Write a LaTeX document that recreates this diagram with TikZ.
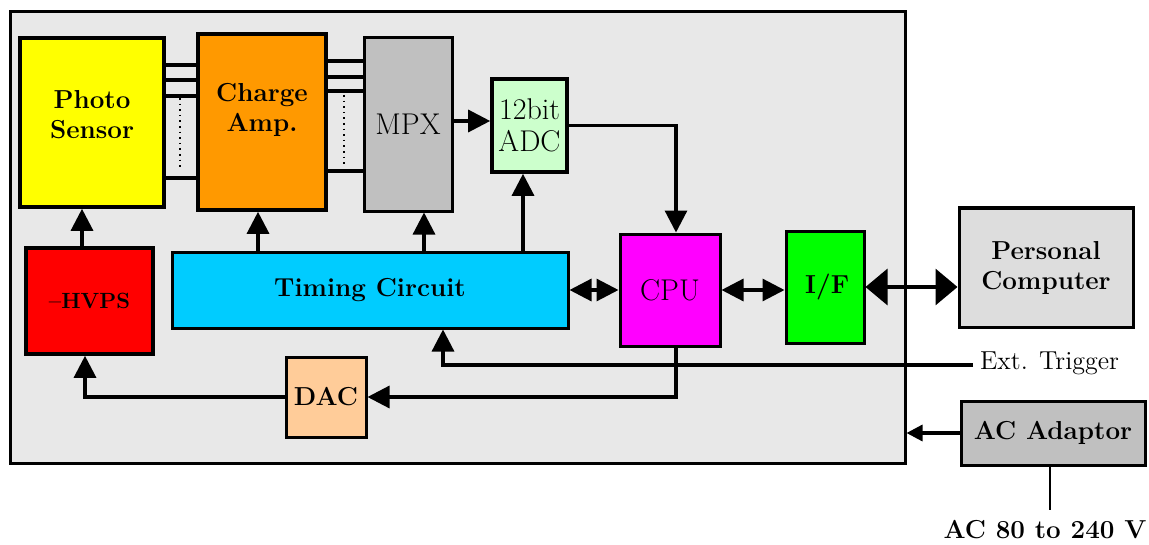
\documentclass[tikz,border=0pt]{standalone}
\usetikzlibrary{positioning, calc, arrows.meta}
\definecolor{Board}{HTML}{E8E8E8}
\definecolor{Sensor}{HTML}{FFFF00}
\definecolor{Amp}{HTML}{FF9900}
\definecolor{Mux}{HTML}{C0C0C0}
\definecolor{Adc}{HTML}{CCFFCC}
\definecolor{Hv}{HTML}{FF0000}
\definecolor{Timer}{HTML}{00CCFF}
\definecolor{Proc}{HTML}{FF00FF}
\definecolor{Iface}{HTML}{00FF00}
\definecolor{Host}{HTML}{DDDDDD}
\definecolor{Dac}{HTML}{FFCC99}
\tikzset{
    block/.style={rectangle, draw=black, line width=1.8pt, inner sep=0pt, align=center,
        font=\bfseries\fontsize{13}{15}\selectfont},
    plainblock/.style={block, line width=1.5pt, font=\fontsize{15}{16}\selectfont},
    lbl/.style={font=\bfseries\fontsize{13}{15}\selectfont, align=center},
    wire/.style={line width=1.6pt},
    arr/.style={wire, -{Triangle[length=11pt,width=11pt]}},
    darr/.style={wire, {Triangle[length=11pt,width=11pt]}-{Triangle[length=11pt,width=11pt]}},
    bigdarr/.style={wire, {Triangle[length=11pt,width=18pt]}-{Triangle[length=11pt,width=18pt]}},
}

\begin{document}
\begin{tikzpicture}[x=0.5pt, y=-0.5pt]
    \useasboundingbox (0,0) rectangle (1149,545);

    % Gehaeuse
    \node[block, fill=Board, line width=1.5pt, minimum width=447.5pt, minimum height=225.5pt] (board) at (457.5,237.5) {};

    % Bloecke
    \node[block, fill=Sensor, minimum width=72pt, minimum height=84.5pt,
        label={[lbl, yshift=4pt]center:{Photo\\Sensor}}] (photo) at (92,122.5) {};
    \node[block, fill=Amp, minimum width=64pt, minimum height=88pt,
        label={[lbl, yshift=6pt]center:{Charge\\Amp.}}] (amp) at (262,122) {};
    \node[plainblock, fill=Mux, minimum width=44pt, minimum height=86.5pt] (mpx) at (408,124.5) {MPX};
    \node[plainblock, fill=Adc, line width=1.8pt, minimum width=37.5pt, minimum height=46.5pt] (adc) at (529.5,125.5) {12bit\\ADC};
    \node[block, fill=Hv, minimum width=63.5pt, minimum height=53pt, font=\bfseries\fontsize{11}{13}\selectfont] (hvps) at (89.5,301) {--HVPS};
    \node[block, fill=Timer, line width=1.5pt, minimum width=198pt, minimum height=38pt] (timing) at (370,290) {Timing Circuit};
    \node[plainblock, fill=Proc, minimum width=50pt, minimum height=56pt] (cpu) at (670,290) {CPU};
    \node[block, fill=Iface, line width=1.5pt, minimum width=39pt, minimum height=56pt] (if) at (825,287) {\,I/F};
    \node[block, fill=Host, line width=1.5pt, minimum width=87pt, minimum height=59.5pt] (pc) at (1046,267.5) {Personal\\Computer};
    \node[block, fill=Dac, line width=1.5pt, minimum width=40pt, minimum height=40pt] (dac) at (326,397) {DAC};
    \node[block, fill=Mux, line width=1.5pt, minimum width=92pt, minimum height=32pt] (ac) at (1053,433) {AC Adaptor};

    % Beschriftungen aussen
    \node[font=\fontsize{13}{15}\selectfont, anchor=west] (trig) at (973,363) {Ext. Trigger};
    \node[font=\bfseries\fontsize{13}{15}\selectfont] (mains) at (1045,530) {AC 80 to 240 V};

    % Kanaele Sensor -> Verstaerker -> MPX
    \foreach \yy in {65,80,96,178}
        \draw[wire] (photo.east |- 0,\yy) -- (amp.west |- 0,\yy);
    \foreach \yy in {61,77,91,171}
        \draw[wire] (amp.east |- 0,\yy) -- (mpx.west |- 0,\yy);
    \draw[dotted, thick] (180,98) -- (180,168);
    \draw[dotted, thick] (344,95) -- (344,165);

    % Signalweg
    \draw[arr] (mpx.east |- 0,121) -- (adc.west |- 0,121);
    \draw[arr] (adc.east) -| (cpu.north -| 676,0);
    \draw[arr] (hvps.north -| 82,0) -- (photo.south -| 82,0);
    \draw[arr] (timing.north -| 258,0) -- (amp.south -| 258,0);
    \draw[arr] (timing.north -| 424,0) -- (mpx.south -| 424,0);
    \draw[arr] (timing.north -| 523,0) -- (adc.south -| 523,0);
    \draw[darr] (timing.east) -- (cpu.west);
    \draw[darr] (cpu.east) -- (cpu.east -| if.west);
    \draw[bigdarr] (if.east) -- (if.east -| pc.west);
    \draw[arr] (cpu.south -| 676,0) |- (dac.east);
    \draw[arr] (dac.west) -| (hvps.south -| 85,0);
    \draw[arr] (trig.west |- 0,365) -| (timing.south -| 443,0);

    % Versorgung
    \draw[wire, -{Triangle[length=8pt,width=8pt]}] (ac.west) -- (ac.west -| board.east);
    \draw[line width=1.2pt] (ac.south -| 1050,0) -- (1050,510);
\end{tikzpicture}
\end{document}
